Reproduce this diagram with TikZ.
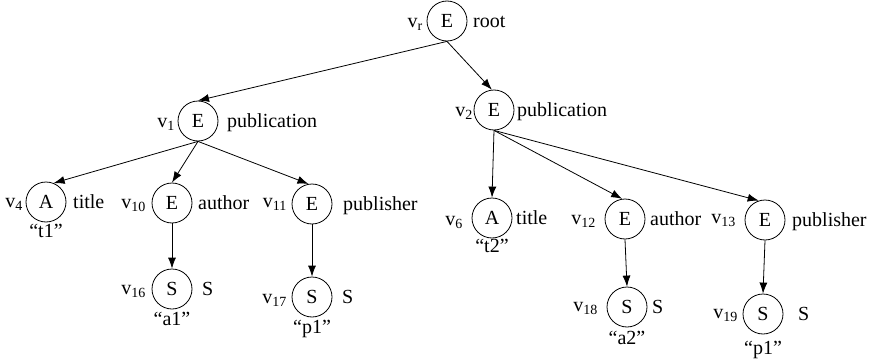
\documentclass[tikz,border=0pt]{standalone}
\usepackage{fontspec}
\setmainfont{Liberation Serif}
\usetikzlibrary{arrows.meta}
\begin{document}
\begin{tikzpicture}[x=1pt,y=-1pt,
  vtx/.style={draw,circle,minimum size=40pt,inner sep=0pt,line width=0.8pt},
  lbl/.style={inner sep=0pt},
  edge/.style={line width=0.8pt,-{Latex[length=11pt,width=8pt]}},
  font=\fontsize{20}{24}\selectfont]
\useasboundingbox (0,0) rectangle (876,364);
% vertices
\node[vtx] (r)   at (447,21)  {E};
\node[vtx] (v1)  at (198,121) {E};
\node[vtx] (v2)  at (494,110) {E};
\node[vtx] (v4)  at (46,202)  {A};
\node[vtx] (v10) at (172,203) {E};
\node[vtx] (v11) at (312,204) {E};
\node[vtx] (v16) at (172,289) {S};
\node[vtx] (v17) at (312,297) {S};
\node[vtx] (v6)  at (492,218) {A};
\node[vtx] (v12) at (625,219) {E};
\node[vtx] (v13) at (765,220) {E};
\node[vtx] (v18) at (627,307) {S};
\node[vtx] (v19) at (763,314) {S};
% left labels
\node[lbl,anchor=base east] (lr)  at (423,27.5)  {v\textsubscript{r}};
\node[lbl,anchor=base east] (l1)  at (175,127.5) {v\textsubscript{1}};
\node[lbl,anchor=base east] (l2)  at (473,116.5) {v\textsubscript{2}};
\node[lbl,anchor=base east] (l4)  at (23,207)    {v\textsubscript{4}};
\node[lbl,anchor=base east] (l10) at (146,208)   {v\textsubscript{10}};
\node[lbl,anchor=base east] (l11) at (287,207)   {v\textsubscript{11}};
\node[lbl,anchor=base east] (l16) at (146,294)   {v\textsubscript{16}};
\node[lbl,anchor=base east] (l17) at (287,303)   {v\textsubscript{17}};
\node[lbl,anchor=base east] (l6)  at (463,225)   {v\textsubscript{6}};
\node[lbl,anchor=base east] (l12) at (596,224)   {v\textsubscript{12}};
\node[lbl,anchor=base east] (l13) at (736,223)   {v\textsubscript{13}};
\node[lbl,anchor=base east] (l18) at (598,311)   {v\textsubscript{18}};
\node[lbl,anchor=base east] (l19) at (738,318)   {v\textsubscript{19}};
% right labels
\node[lbl,anchor=base west] (tr)  at (473,27.5)  {root};
\node[lbl,anchor=base west] (t1)  at (227,127.5) {publication};
\node[lbl,anchor=base west] (t2)  at (517,116.5) {publication};
\node[lbl,anchor=base west] (t4)  at (73,208.5)  {title};
\node[lbl,anchor=base west] (t10) at (198,209.5) {author};
\node[lbl,anchor=base west] (t11) at (343,210.5) {publisher};
\node[lbl,anchor=base west] (t16) at (202,295.5) {S};
\node[lbl,anchor=base west] (t17) at (342,303.5) {S};
\node[lbl,anchor=base west] (t6)  at (516,224.5) {title};
\node[lbl,anchor=base west] (t12) at (650,225.5) {author};
\node[lbl,anchor=base west] (t13) at (792,226.5) {publisher};
\node[lbl,anchor=base west] (t18) at (652,313.5) {S};
\node[lbl,anchor=base west] (t19) at (798,320.5) {S};
% value labels
\node[lbl] (s4)  at (46,231)  {“t1”};
\node[lbl] (s16) at (172,319) {“a1”};
\node[lbl] (s17) at (312,329) {“p1”};
\node[lbl] (s6)  at (492,246) {“t2”};
\node[lbl] (s18) at (627,338) {“a2”};
\node[lbl] (s19) at (763,350) {“p1”};
% edges
\draw[edge] (r.south) -- (v1.north);
\draw[edge] (r.south) -- (v2.96);
\draw[edge] (v1.south) -- (v4.68);
\draw[edge] (v1.south) -- (v10.north);
\draw[edge] (v1.south) -- (v11.100);
\draw[edge] (v10.south) -- (v16.north);
\draw[edge] (v11.south) -- (v17.north);
\draw[edge] (v2.south) -- (v6.north);
\draw[edge] (v2.south) -- (v12.98);
\draw[edge] (v2.south) -- (v13.108);
\draw[edge] (v12.south) -- (v18.north);
\draw[edge] (v13.south) -- (v19.north);
\end{tikzpicture}
\end{document}
